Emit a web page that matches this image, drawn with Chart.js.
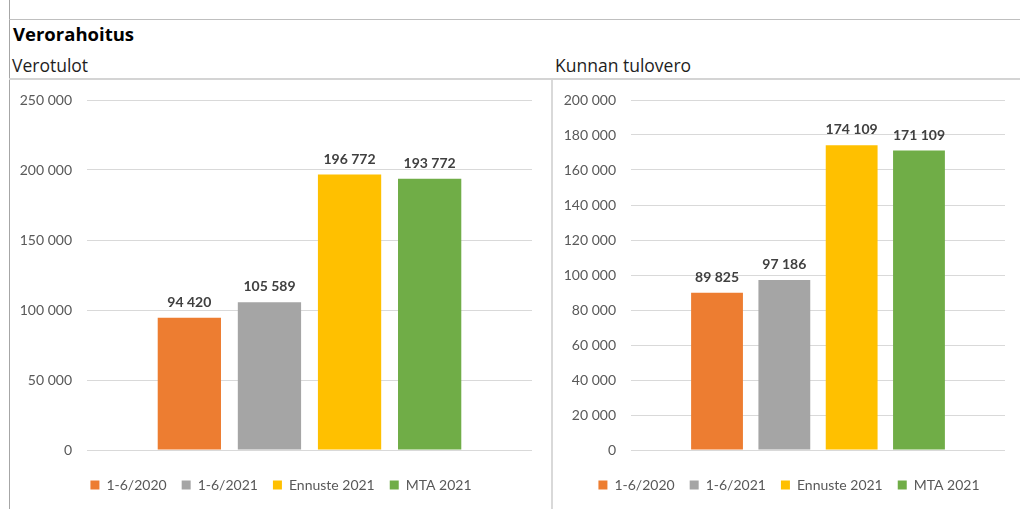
<!DOCTYPE html>
<html lang="fi">
<head>
<meta charset="utf-8">
<title>Verorahoitus</title>
<script src="https://cdn.jsdelivr.net/npm/chart.js@4.4.1/dist/chart.umd.min.js"></script>
<style>
  html, body { margin: 0; padding: 0; background: #fff; }
  body { width: 1020px; height: 509px; position: relative; overflow: hidden; font-family: "Open Sans", sans-serif; }
  .line { position: absolute; }
  .txt { position: absolute; white-space: nowrap; line-height: 1; color: #1e1e1e; }
  canvas { position: absolute; }
</style>
</head>
<body>
<!-- frame lines -->
<div class="line" style="left:9px;top:0;width:1px;height:509px;background:#a6a6a6"></div>
<div class="line" style="left:9px;top:19px;width:1011px;height:1px;background:#bfbfbf"></div>
<div class="line" style="left:9px;top:78px;width:1011px;height:2px;background:#d4d4d4"></div>
<div class="line" style="left:551px;top:80px;width:2px;height:429px;background:#d9d9d9"></div>

<div class="txt" style="left:13px;top:25px;font-size:18.5px;font-weight:bold;color:#000">Verorahoitus</div>
<div class="txt" style="left:12px;top:56.5px;font-size:17.5px">Verotulot</div>
<div class="txt" style="left:555px;top:56.5px;font-size:17.5px">Kunnan tulovero</div>

<canvas id="verotulotChart" width="541" height="429" style="left:10px;top:80px"></canvas>
<canvas id="tuloveroChart" width="467" height="429" style="left:553px;top:80px"></canvas>

<script>
const seriesNames = ['1-6/2020', '1-6/2021', 'Ennuste 2021', 'MTA 2021'];
const seriesColors = ['#ED7D31', '#A5A5A5', '#FFC000', '#70AD47'];

// Verotulot (left) and Kunnan tulovero (right)
const verotulot = [94420, 105589, 196772, 193772];
const kunnanTulovero = [89825, 97186, 174109, 171109];

const verotulotMax = 250000;
const verotulotStep = 50000;
const tuloveroMax = 200000;
const tuloveroStep = 20000;

// thousands separated with a space, like "196 772"
const fmt = v => Math.round(v).toString().replace(/\B(?=(\d{3})+(?!\d))/g, ' ');

// value labels above the bars
const valueLabels = {
  id: 'valueLabels',
  afterDatasetsDraw(chart) {
    const ctx = chart.ctx;
    ctx.save();
    ctx.font = 'bold 14px Lato';
    ctx.fillStyle = '#404040';
    ctx.textAlign = 'center';
    ctx.textBaseline = 'alphabetic';
    chart.data.datasets.forEach((ds, i) => {
      chart.getDatasetMeta(i).data.forEach((bar, j) => {
        ctx.fillText(fmt(ds.data[j]), bar.x, bar.y - 11);
      });
    });
    ctx.restore();
  }
};

// nudge the legend sideways so it sits centred under the whole panel
const legendShift = {
  id: 'legendShift',
  afterLayout(chart, args, opts) {
    const lg = chart.legend;
    if (!lg || !opts.dx) return;
    lg.left += opts.dx;
    lg.right += opts.dx;
  }
};

function drawChart(id, values, max, step, opts) {
  return new Chart(document.getElementById(id), {
    type: 'bar',
    data: {
      labels: [''],
      datasets: seriesNames.map((name, i) => ({
        label: name,
        data: [values[i]],
        backgroundColor: seriesColors[i],
        barPercentage: opts.barPct,
        categoryPercentage: 0.72
      }))
    },
    options: {
      responsive: false,
      animation: false,
      layout: { padding: { top: 20, left: 0, right: opts.padRight, bottom: 7 } },
      scales: {
        x: {
          grid: { display: false },
          border: { display: false },
          ticks: { display: false },
          afterFit: s => { s.height = 13; }
        },
        y: {
          min: 0,
          max: max,
          ticks: {
            stepSize: step,
            padding: 15,
            color: '#595959',
            font: { family: 'Lato', size: 14 },
            callback: v => fmt(v)
          },
          grid: { color: '#d9d9d9', drawTicks: false },
          border: { display: false },
          afterFit: s => {
            s.width = opts.axisWidth;
            s.paddingTop = 8;
            s.paddingBottom = 8;
          }
        }
      },
      plugins: {
        legend: {
          position: 'bottom',
          labels: {
            boxWidth: 9,
            boxHeight: 9,
            padding: 15,
            color: '#595959',
            font: { family: 'Lato', size: 14 }
          }
        },
        legendShift: { dx: opts.legendDx },
        tooltip: { enabled: false }
      }
    },
    plugins: [valueLabels, legendShift]
  });
}

drawChart('verotulotChart', verotulot, verotulotMax, verotulotStep,
  { padRight: 19, axisWidth: 77, barPct: 0.79, legendDx: 10 });
drawChart('tuloveroChart', kunnanTulovero, tuloveroMax, tuloveroStep,
  { padRight: 15, axisWidth: 78, barPct: 0.77, legendDx: 10 });
</script>
</body>
</html>
